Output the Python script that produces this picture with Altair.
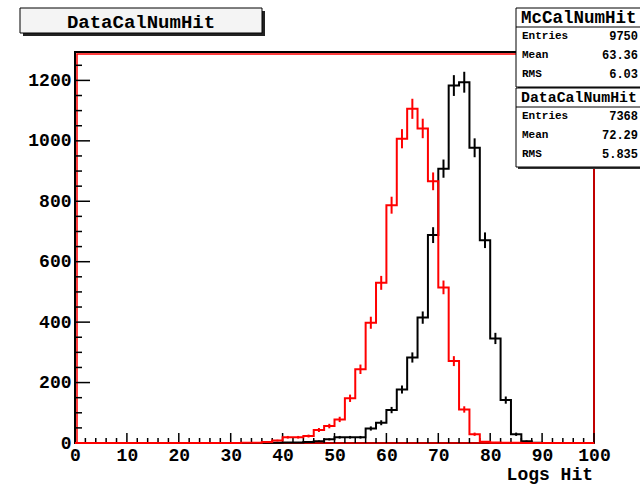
import altair as alt
import pandas as pd
import numpy as np

# ---------------- data ----------------
bin_edges = list(range(0, 100, 2))  # 50 bins of width 2, 0..100

mc_counts = [0, 0, 0, 0, 0, 0, 0, 0, 0, 0,
             0, 0, 0, 0, 0, 0, 1, 1, 3, 8,
             19, 19, 23, 43, 56, 78, 148, 244, 398, 530,
             787, 1007, 1106, 1041, 866, 515, 271, 111, 29, 4,
             2, 1, 1, 0, 0, 0, 0, 0, 0, 0]

data_counts = [0, 0, 0, 0, 0, 0, 0, 0, 0, 0,
               0, 0, 0, 0, 0, 0, 0, 0, 1, 1,
               2, 2, 3, 6, 12, 19, 19, 19, 48, 67,
               109, 177, 283, 415, 688, 908, 1183, 1194, 977, 671,
               346, 142, 29, 6, 1, 0, 0, 0, 0, 0]

x_tick_major = list(range(0, 101, 10))
x_tick_minor = [v for v in range(0, 101, 2) if v % 10 != 0]
y_tick_major = list(range(0, 1201, 200))
y_tick_minor = [v for v in range(0, 1251, 50) if v % 200 != 0]

title_text = "DataCalNumHit"
x_title = "Logs Hit"
stat_boxes = [
    ("McCalNumHit", ["Entries", "Mean", "RMS"], ["9750", "63.36", "6.03"]),
    ("DataCalNumHit", ["Entries", "Mean", "RMS"], ["7368", "72.29", "5.835"]),
]

# ---------------- geometry ----------------
W, H = 519, 391
YMAX = 1294
FONT = "Liberation Mono"

xs = alt.Scale(domain=[0, 100], nice=False, zero=False)
ys = alt.Scale(domain=[0, YMAX], nice=False, zero=False)

xaxis = alt.Axis(values=x_tick_major, ticks=False, domain=False, grid=False, format="d",
                 labelFont=FONT, labelFontWeight="bold", labelFontSize=18,
                 labelPadding=3, labelColor="black", labelFlush=False, title=None)
yaxis = alt.Axis(values=y_tick_major, ticks=False, domain=False, grid=False, format="d",
                 labelFont=FONT, labelFontWeight="bold", labelFontSize=18,
                 labelPadding=4, labelColor="black", labelFlush=False, title=None)


def step_df(counts):
    xs_ = bin_edges + [100]
    ys_ = list(counts) + [counts[-1]]
    return pd.DataFrame({"x": xs_, "y": ys_})


def err_df(counts):
    rows = []
    for e, c in zip(bin_edges, counts):
        if c > 0:
            s = np.sqrt(c)
            rows.append({"xc": e + 1, "lo": c - s, "hi": c + s})
    return pd.DataFrame(rows)


one = pd.DataFrame({"a": [0]})

# frame
frame_black = alt.Chart(one).mark_rect(fill=None, stroke="black", strokeWidth=2).encode(
    x=alt.value(0), x2=alt.value(W), y=alt.value(0), y2=alt.value(H))
frame_red = alt.Chart(one).mark_rect(fill=None, stroke="#ff0000", strokeWidth=1.5).encode(
    x=alt.value(2), x2=alt.value(W), y=alt.value(2), y2=alt.value(H))

# ticks
xmaj = alt.Chart(pd.DataFrame({"t": x_tick_major})).mark_rule(color="black", strokeWidth=1.5).encode(
    x=alt.X("t:Q", scale=xs, axis=xaxis), y=alt.value(H), y2=alt.value(H - 10))
xmin = alt.Chart(pd.DataFrame({"t": x_tick_minor})).mark_rule(color="black", strokeWidth=1.5).encode(
    x=alt.X("t:Q", scale=xs), y=alt.value(H), y2=alt.value(H - 5))
ymaj = alt.Chart(pd.DataFrame({"t": y_tick_major})).mark_rule(color="black", strokeWidth=1.5).encode(
    y=alt.Y("t:Q", scale=ys, axis=yaxis), x=alt.value(0), x2=alt.value(15))
ymin = alt.Chart(pd.DataFrame({"t": y_tick_minor})).mark_rule(color="black", strokeWidth=1.5).encode(
    y=alt.Y("t:Q", scale=ys), x=alt.value(0), x2=alt.value(7))


def hist_layers(counts, color):
    line = alt.Chart(step_df(counts)).mark_line(
        interpolate="step-after", color=color, strokeWidth=2).encode(
        x=alt.X("x:Q", scale=xs), y=alt.Y("y:Q", scale=ys))
    err = alt.Chart(err_df(counts)).mark_rule(color=color, strokeWidth=2).encode(
        x=alt.X("xc:Q", scale=xs), y=alt.Y("lo:Q", scale=ys), y2="hi:Q")
    return [line, err]


# title box
tb_x0, tb_x1, tb_y0, tb_y1 = -55, 187, -44, -19
title_shadow = alt.Chart(one).mark_rect(fill="#222222").encode(
    x=alt.value(tb_x0 + 3), x2=alt.value(tb_x1 + 3), y=alt.value(tb_y0 + 3), y2=alt.value(tb_y1 + 3))
title_box = alt.Chart(one).mark_rect(fill="#f4f4f4", stroke="black", strokeWidth=1).encode(
    x=alt.value(tb_x0), x2=alt.value(tb_x1), y=alt.value(tb_y0), y2=alt.value(tb_y1))
title_txt = alt.Chart(pd.DataFrame({"t": [title_text]})).mark_text(
    font=FONT, fontWeight="bold", fontSize=19, color="black", baseline="middle", align="center").encode(
    x=alt.value((tb_x0 + tb_x1) / 2), y=alt.value((tb_y0 + tb_y1) / 2 + 1), text="t:N")

# x title
xtitle = alt.Chart(pd.DataFrame({"t": [x_title]})).mark_text(
    font=FONT, fontWeight="bold", fontSize=18, color="black", align="right", baseline="middle").encode(
    x=alt.value(518), y=alt.value(423), text="t:N")

# stats boxes
box_layers = []
bx0, bx1 = 441, 566
box_tops = [-44, 36]
for (name, labels, vals), top in zip(stat_boxes, box_tops):
    bottom = top + 79
    tsize = min(17.5, 116 / (0.6 * len(name)))
    box_layers.append(alt.Chart(one).mark_rect(fill="#333333").encode(
        x=alt.value(bx0 + 2), x2=alt.value(bx1 + 2), y=alt.value(top + 2), y2=alt.value(bottom + 2)))
    box_layers.append(alt.Chart(one).mark_rect(fill="white", stroke="black", strokeWidth=1).encode(
        x=alt.value(bx0), x2=alt.value(bx1), y=alt.value(top), y2=alt.value(bottom)))
    box_layers.append(alt.Chart(one).mark_rule(color="black", strokeWidth=1).encode(
        x=alt.value(bx0), x2=alt.value(bx1), y=alt.value(top + 19)))
    box_layers.append(alt.Chart(pd.DataFrame({"t": [name]})).mark_text(
        font=FONT, fontWeight="bold", fontSize=tsize, color="black", align="left", baseline="middle").encode(
        x=alt.value(bx0 + 5), y=alt.value(top + 10), text="t:N"))
    for i, (lab, val) in enumerate(zip(labels, vals)):
        ry = top + 28 + 19 * i
        box_layers.append(alt.Chart(pd.DataFrame({"t": [lab]})).mark_text(
            font=FONT, fontWeight="bold", fontSize=11, color="black", align="left", baseline="middle").encode(
            x=alt.value(bx0 + 6), y=alt.value(ry), text="t:N"))
        box_layers.append(alt.Chart(pd.DataFrame({"t": [val]})).mark_text(
            font=FONT, fontWeight="bold", fontSize=12, color="black", align="right", baseline="middle").encode(
            x=alt.value(bx1 - 3), y=alt.value(ry), text="t:N"))

layers = [frame_black, frame_red, xmaj, xmin, ymaj, ymin]
layers += hist_layers(data_counts, "black")
layers += hist_layers(mc_counts, "#ff0000")
layers += [title_shadow, title_box, title_txt, xtitle]
layers += box_layers

chart = alt.layer(*layers).properties(
    width=W, height=H,
    padding={"left": 75, "top": 52, "right": 46, "bottom": 42},
    autosize=alt.AutoSizeParams(type="none"),
    background="white",
).configure_view(stroke=None)

chart.save("out.html", embed_options={"renderer": "svg", "actions": False})
